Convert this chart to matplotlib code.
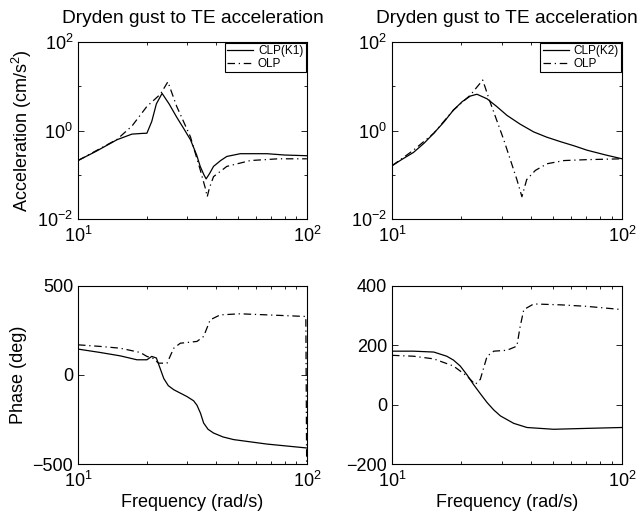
import matplotlib
matplotlib.use("Agg")
import matplotlib.pyplot as plt
from matplotlib.ticker import FixedLocator, NullFormatter

plt.rcParams["font.family"] = ["Liberation Sans", "DejaVu Sans"]
plt.rcParams["mathtext.default"] = "regular"
plt.rcParams["axes.linewidth"] = 0.8

# ---- magnitude, controller K1 (top left) ----
f_mag_clp1 = [10, 12, 14.8, 17.2, 19, 20, 21, 22, 23.3, 25, 27, 29, 31, 33, 34.2,
              35.5, 36.3, 37.5, 39.1, 42, 44.7, 51.2, 60, 66.9, 80, 100]
mag_clp1 = [0.21, 0.34, 0.62, 0.83, 0.86, 0.87, 1.6, 4.0, 6.9, 4.0, 2.0, 1.1, 0.62,
            0.28, 0.155, 0.10, 0.081, 0.105, 0.155, 0.21, 0.26, 0.30, 0.30, 0.30,
            0.28, 0.27]
f_mag_olp = [10, 12, 14.8, 17.2, 20, 22.9, 24.7, 27, 31, 34.2, 36, 36.7, 37.5, 39.1,
             44.7, 56.6, 75, 100]
mag_olp1 = [0.21, 0.35, 0.63, 1.26, 3.5, 6.6, 12.6, 3.5, 0.72, 0.13, 0.05, 0.032,
            0.05, 0.091, 0.155, 0.21, 0.23, 0.23]

# ---- magnitude, controller K2 (top right) ----
f_mag_clp2 = [10, 11, 12.4, 13.8, 15.2, 16.8, 18.5, 20.2, 21.9, 23.4, 25.9, 28.5,
              31.6, 36, 41.3, 47, 54, 62, 70.4, 85, 100]
mag_clp2 = [0.16, 0.22, 0.32, 0.52, 0.87, 1.55, 2.9, 4.5, 6.0, 6.6, 5.2, 3.5, 2.2,
            1.4, 0.93, 0.71, 0.56, 0.45, 0.36, 0.28, 0.23]
f_mag_olp2 = [10, 12.4, 15.2, 18.5, 21.9, 24.8, 26.5, 30.6, 34.9, 36.7, 38.5, 42,
              47.2, 56, 70, 100]
mag_olp2 = [0.16, 0.36, 0.87, 2.9, 6.3, 13.8, 4.9, 0.62, 0.078, 0.032, 0.078, 0.126,
            0.178, 0.21, 0.22, 0.23]

# ---- phase, K1 (bottom left) ----
f_ph_clp1 = [10, 12.5, 15.3, 18.1, 20, 21, 22, 22.8, 23.7, 24.8, 26.2, 29.9, 32,
             33.1, 34.3, 35.4, 37, 39.1, 43, 47.9, 66.9, 100]
ph_clp1 = [145, 126, 107, 85, 85, 104, 95, 40, -20, -60, -83, -121, -145, -170,
           -215, -270, -305, -326, -348, -363, -388, -410]
f_ph_olp1 = [10, 12.5, 15.3, 18.7, 20, 21.2, 22.5, 24.5, 26.2, 28, 33.1, 35.4, 37.8,
             41.8, 51, 67, 99, 100]
ph_olp1 = [169, 160, 150, 126, 104, 94, 66, 66, 150, 178, 188, 216, 309, 337, 343,
           337, 328, -700]

# ---- phase, K2 (bottom right) ----
f_ph_clp2 = [10, 12.4, 15.2, 17.3, 18.5, 19.8, 21.2, 22.6, 24.2, 25.9, 27.7, 29.6,
             33.8, 38.6, 50.4, 70, 100]
ph_clp2 = [180, 180, 177, 163, 150, 130, 100, 68, 37, 7, -18, -38, -63, -77, -83,
           -80, -77]
f_ph_olp2 = [10, 12.4, 15.2, 18.5, 21.2, 23, 24.2, 25.9, 27.7, 31.6, 34.9, 36, 37.4,
             41.3, 54, 70, 100]
ph_olp2 = [166, 163, 154, 130, 96, 68, 85, 163, 180, 183, 197, 260, 320, 339, 336,
           331, 320]

title = "Dryden gust to TE acceleration"
dashdot = (0, (6, 3, 1, 3))
lw = 0.9
fs = 13

fig = plt.figure(figsize=(6.41, 5.18), dpi=100)
ax_tl = fig.add_axes([0.1217, 0.577, 0.357, 0.342])
ax_tr = fig.add_axes([0.6115, 0.577, 0.359, 0.342])
ax_bl = fig.add_axes([0.1217, 0.1042, 0.357, 0.344])
ax_br = fig.add_axes([0.6115, 0.1042, 0.359, 0.344])


def style(ax):
    ax.set_xscale("log")
    ax.set_xlim(10, 100)
    ax.set_xticks([10, 100])
    ax.set_xticklabels(["$10^{1}$", "$10^{2}$"])
    ax.xaxis.set_minor_locator(FixedLocator(range(20, 100, 10)))
    ax.xaxis.set_minor_formatter(NullFormatter())
    ax.tick_params(which="both", direction="in", top=True, right=True,
                   labelsize=fs, width=0.6, color="black")
    ax.tick_params(which="major", length=4)
    ax.tick_params(which="minor", length=2.5)
    ax.tick_params(axis="x", pad=5)


for ax, fc, mc, fo, mo, lab in [
    (ax_tl, f_mag_clp1, mag_clp1, f_mag_olp, mag_olp1, "CLP(K1)"),
    (ax_tr, f_mag_clp2, mag_clp2, f_mag_olp2, mag_olp2, "CLP(K2)"),
]:
    ax.plot(fc, mc, color="black", lw=lw, label=lab)
    ax.plot(fo, mo, color="black", lw=lw, linestyle=dashdot, label="OLP")
    style(ax)
    ax.set_yscale("log")
    ax.set_ylim(1e-2, 1e2)
    ax.set_yticks([1e-2, 1, 1e2])
    ax.set_yticklabels(["$10^{-2}$", "$10^{0}$", "$10^{2}$"])
    ax.yaxis.set_minor_locator(FixedLocator([1e-1, 1e1]))
    ax.yaxis.set_minor_formatter(NullFormatter())
    ax.set_title(title, fontsize=13.8, pad=14)
    leg = ax.legend(loc="upper right", fontsize=8.5, frameon=True, fancybox=False,
                    edgecolor="black", framealpha=1, borderaxespad=0.1,
                    handlelength=2.2, handletextpad=0.4, borderpad=0.2,
                    labelspacing=0.05)
    leg.get_frame().set_linewidth(0.8)

ax_tl.set_ylabel("Acceleration (cm/s$^2$)", fontsize=fs, labelpad=2)

ax_bl.plot(f_ph_clp1, ph_clp1, color="black", lw=lw)
ax_bl.plot(f_ph_olp1, ph_olp1, color="black", lw=lw, linestyle=dashdot)
style(ax_bl)
ax_bl.set_ylim(-500, 500)
ax_bl.set_yticks([-500, 0, 500])
ax_bl.set_ylabel("Phase (deg)", fontsize=fs)
ax_bl.set_xlabel("Frequency (rad/s)", fontsize=fs, labelpad=2)

ax_br.plot(f_ph_clp2, ph_clp2, color="black", lw=lw)
ax_br.plot(f_ph_olp2, ph_olp2, color="black", lw=lw, linestyle=dashdot)
style(ax_br)
ax_br.set_ylim(-200, 400)
ax_br.set_yticks([-200, 0, 200, 400])
ax_br.set_xlabel("Frequency (rad/s)", fontsize=fs, labelpad=2)

fig.savefig("out.png", dpi=100)
